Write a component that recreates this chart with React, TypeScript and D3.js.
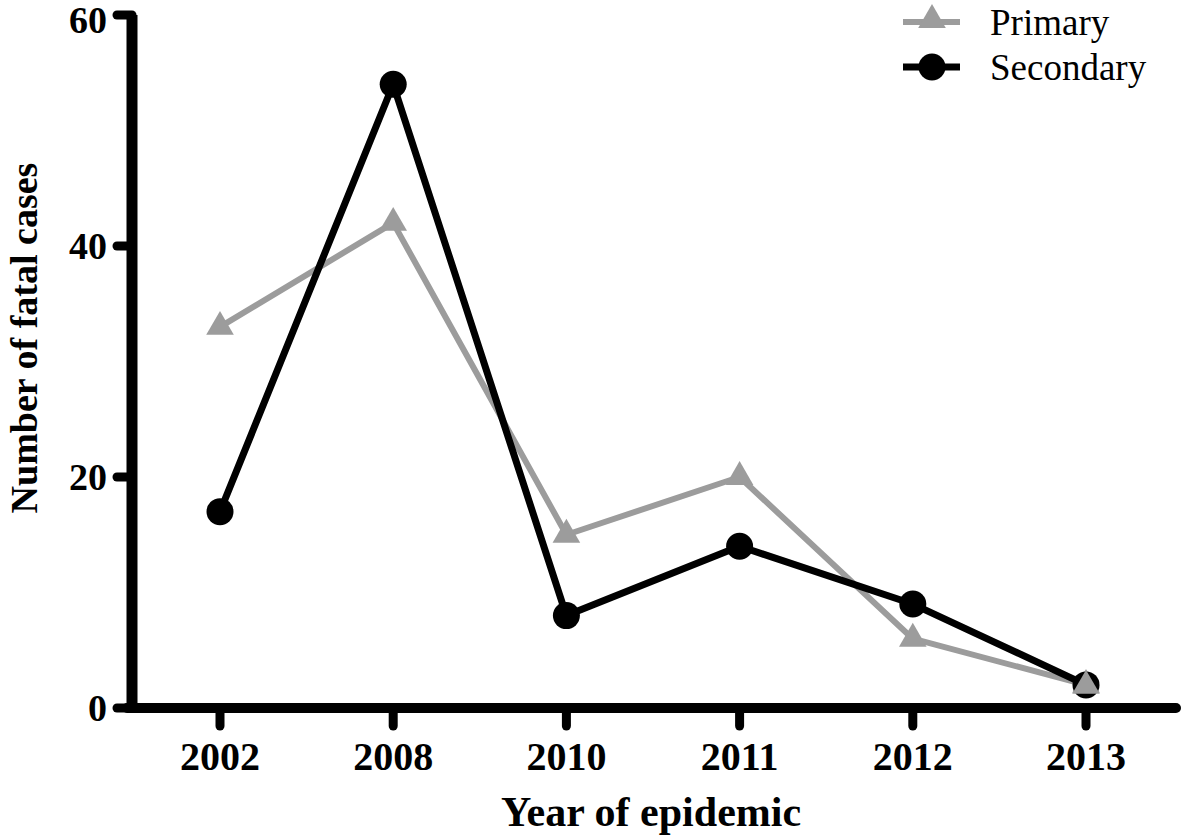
import React from "react";
import * as d3 from "d3";

const years = ["2002", "2008", "2010", "2011", "2012", "2013"];
const primary = [33, 42, 15, 20, 6, 2];
const secondary = [17, 54, 8, 14, 9, 2];
const yTicks = [0, 20, 40, 60];
const seriesNames = ["Primary", "Secondary"];

const W = 1181;
const H = 838;
const FONT = "'Liberation Serif', 'Times New Roman', serif";
const GRAY = "#9c9c9c";

export default function App() {
  const x = d3.scalePoint<string>().domain(years).range([220, 1086]);
  const y = d3.scaleLinear().domain([0, 60]).range([708, 15]);
  const line = d3
    .line<number>()
    .x((_, i) => x(years[i]) as number)
    .y((d) => y(d));
  const tri = d3.symbol().type(d3.symbolTriangle).size(330)();

  const axisX0 = 132;
  const axisY0 = y(0);

  return (
    <svg
      width={W}
      height={H}
      style={{ position: "absolute", left: 0, top: 0, background: "#fff" }}
      fontFamily={FONT}
    >
      {/* series lines */}
      <path d={line(primary) || ""} fill="none" stroke={GRAY} strokeWidth={6} strokeLinejoin="round" />
      {primary.map((v, i) => (
        <path key={"p" + i} d={tri || ""} transform={`translate(${x(years[i])},${y(v)})`} fill={GRAY} />
      ))}
      <path d={line(secondary) || ""} fill="none" stroke="#000" strokeWidth={7} strokeLinejoin="round" />
      {secondary.map((v, i) => (
        <circle key={"s" + i} cx={x(years[i])} cy={y(v)} r={13.5} fill="#000" />
      ))}
      <path d={tri || ""} transform={`translate(${x(years[5])},${y(primary[5]) + 1})`} fill={GRAY} />

      {/* axes */}
      <line x1={axisX0} x2={axisX0} y1={y(60)} y2={axisY0} stroke="#000" strokeWidth={11} strokeLinecap="butt" />
      <line x1={axisX0 - 5} x2={1176} y1={axisY0} y2={axisY0} stroke="#000" strokeWidth={10} strokeLinecap="round" />
      {yTicks.map((t) => (
        <g key={"yt" + t}>
          <line x1={117} x2={axisX0} y1={y(t)} y2={y(t)} stroke="#000" strokeWidth={9} strokeLinecap="round" />
          <text x={107} y={Math.max(y(t), 20)} dy="0.35em" textAnchor="end" fontSize={38} fontWeight="bold">
            {t}
          </text>
        </g>
      ))}
      {years.map((yr) => (
        <g key={"xt" + yr}>
          <line x1={x(yr)} x2={x(yr)} y1={axisY0} y2={axisY0 + 18} stroke="#000" strokeWidth={9} strokeLinecap="round" />
          <text x={x(yr)} y={770} textAnchor="middle" fontSize={40} fontWeight="bold">
            {yr}
          </text>
        </g>
      ))}

      {/* axis titles */}
      <text x={651} y={826} textAnchor="middle" fontSize={42} fontWeight="bold">
        Year of epidemic
      </text>
      <text
        transform={`translate(37,338) rotate(-90)`}
        textAnchor="middle"
        fontSize={38}
        fontWeight="bold"
      >
        Number of fatal cases
      </text>

      {/* legend */}
      <g>
        <line x1={903} x2={960} y1={22} y2={22} stroke={GRAY} strokeWidth={6} />
        <path d={tri || ""} transform="translate(932,20)" fill={GRAY} />
        <text x={990} y={22} dy="0.35em" fontSize={37}>
          {seriesNames[0]}
        </text>
        <line x1={903} x2={960} y1={67} y2={67} stroke="#000" strokeWidth={7} />
        <circle cx={932} cy={67} r={13.5} fill="#000" />
        <text x={990} y={67} dy="0.35em" fontSize={37}>
          {seriesNames[1]}
        </text>
      </g>
    </svg>
  );
}
